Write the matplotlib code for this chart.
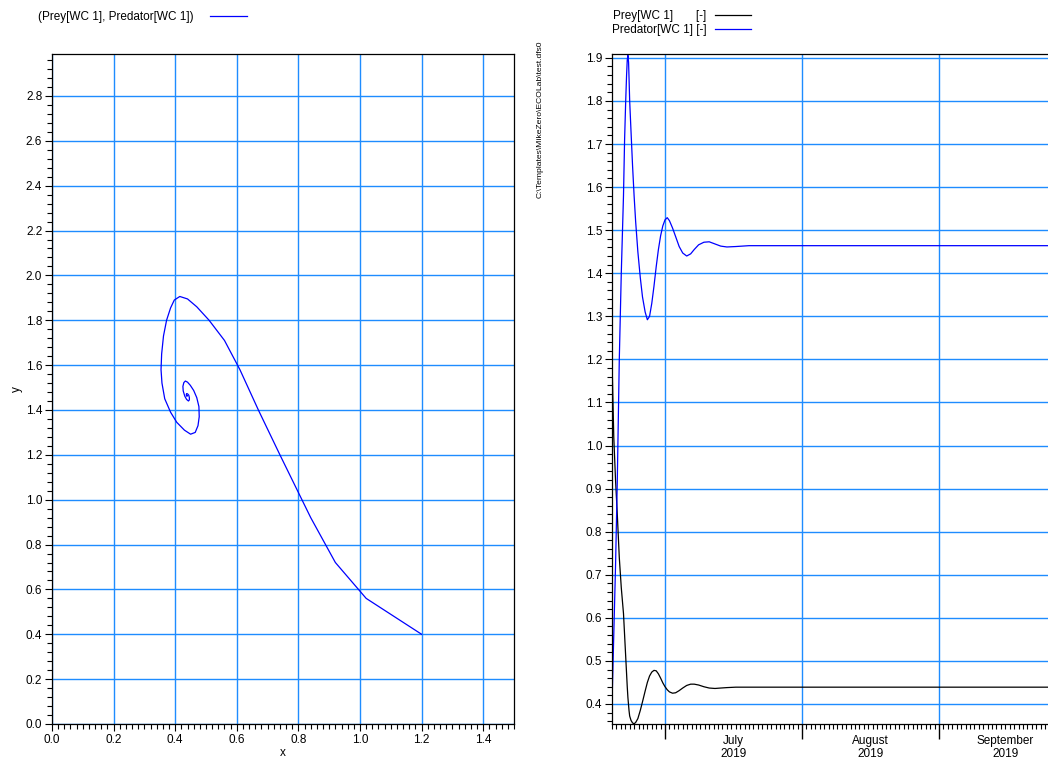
import matplotlib
matplotlib.use('Agg')
import matplotlib.pyplot as plt
import matplotlib.dates as mdates
from matplotlib.ticker import MultipleLocator, FormatStrFormatter
from datetime import datetime, timedelta

plt.rcParams['font.family'] = ['Liberation Sans', 'DejaVu Sans']
plt.rcParams['font.size'] = 8.5

# simulation output (days after start, prey, predator)
start = datetime(2019, 6, 19)
days = [0.0, 0.4, 0.8, 1.2, 1.65, 2.1, 2.6, 2.85, 3.1, 3.3, 3.45, 3.6, 3.75,
        3.85, 4.0, 4.3, 4.65, 5.0, 5.35, 5.85, 6.4, 6.9, 7.5, 8.0, 8.5, 9.0,
        9.5, 10.0, 10.5, 11.0, 11.5, 12.0, 12.5, 13.0, 13.7, 14.4, 15.2, 16.0,
        16.9, 17.8, 18.6, 19.6, 20.8, 22.0, 23.3, 24.6, 26.0, 28.0, 31.0,
        40.0, 60.0, 80.0, 98.7]
prey = [1.20, 1.02, 0.92, 0.84, 0.74, 0.67, 0.61, 0.56, 0.51, 0.47, 0.44, 0.415,
        0.397, 0.385, 0.372, 0.362, 0.356, 0.354, 0.357, 0.366, 0.385, 0.405,
        0.43, 0.45, 0.465, 0.474, 0.478, 0.477, 0.47, 0.46, 0.449, 0.44, 0.433,
        0.428, 0.425, 0.426, 0.431, 0.437, 0.443, 0.446, 0.446, 0.444, 0.440,
        0.437, 0.436, 0.437, 0.438, 0.439, 0.439, 0.439, 0.439, 0.439, 0.439]
predator = [0.40, 0.56, 0.72, 0.92, 1.20, 1.40, 1.58, 1.71, 1.80, 1.86, 1.895,
            1.906, 1.89, 1.855, 1.80, 1.73, 1.65, 1.58, 1.52, 1.45, 1.39, 1.345,
            1.31, 1.292, 1.30, 1.33, 1.37, 1.415, 1.455, 1.487, 1.51, 1.524,
            1.529, 1.522, 1.505, 1.485, 1.462, 1.447, 1.440, 1.445, 1.455,
            1.466, 1.472, 1.473, 1.468, 1.463, 1.461, 1.462, 1.464, 1.464,
            1.464, 1.464, 1.464]
times = [start + timedelta(days=d) for d in days]

months = [(7, 'July'), (8, 'August'), (9, 'September')]

GRID = '#1E8CFF'

fig = plt.figure(figsize=(10.48, 7.6), dpi=100, facecolor='white')

# ---- phase plot ----
ax1 = fig.add_axes([52 / 1048, 1 - 724 / 760, 462 / 1048, 670 / 760])
ax1.plot(prey, predator, color='#0000FF', lw=0.9,
         label='(Prey[WC 1], Predator[WC 1])')
ax1.set_xlim(0, 1.5)
ax1.set_ylim(0, 2.987)
ax1.xaxis.set_major_locator(MultipleLocator(0.2))
ax1.xaxis.set_minor_locator(MultipleLocator(0.02))
ax1.yaxis.set_major_locator(MultipleLocator(0.2))
ax1.yaxis.set_minor_locator(MultipleLocator(0.04))
ax1.xaxis.set_major_formatter(FormatStrFormatter('%.1f'))
ax1.yaxis.set_major_formatter(FormatStrFormatter('%.1f'))
ax1.grid(True, which='major', color=GRID, lw=1.0)
ax1.set_axisbelow(True)
ax1.tick_params(which='major', direction='out', length=5, width=0.8, pad=2)
ax1.tick_params(which='minor', direction='out', length=3.5, width=0.8)
ax1.set_xlabel('x', labelpad=1)
ax1.set_ylabel('y', labelpad=2)
for s in ax1.spines.values():
    s.set_linewidth(0.9)
ax1.legend(loc='upper left', bbox_to_anchor=(38 / 1048, 1 - 11 / 760),
           bbox_transform=fig.transFigure, frameon=False, markerfirst=False,
           handlelength=3.1, handletextpad=1.4, borderpad=0, borderaxespad=0)

# file path note
fig.text(540 / 1048, 1 - 40 / 760, 'C:\\Templates\\MikeZero\\ECOLab\\test.dfs0',
         rotation=90, ha='center', va='top', fontsize=6.1)

# ---- time series ----
ax2 = fig.add_axes([612 / 1048, 1 - 724 / 760, 436 / 1048, 670 / 760])
ax2.plot(times, prey, color='black', lw=0.9, label='Prey[WC 1]       [-]')
ax2.plot(times, predator, color='#0000FF', lw=0.9, label='Predator[WC 1] [-]')
x_end = datetime(2019, 9, 1) + timedelta(days=24.66)
ax2.set_xlim(start, x_end)
ax2.set_ylim(0.3535, 1.909)
ax2.yaxis.set_major_locator(MultipleLocator(0.1))
ax2.yaxis.set_minor_locator(MultipleLocator(0.02))
ax2.yaxis.set_major_formatter(FormatStrFormatter('%.1f'))
ax2.xaxis.set_major_locator(mdates.MonthLocator())
ax2.xaxis.set_minor_locator(mdates.DayLocator())
ax2.xaxis.set_major_formatter(plt.NullFormatter())
ax2.grid(True, which='major', color=GRID, lw=1.0)
ax2.set_axisbelow(True)
ax2.tick_params(axis='y', which='major', direction='out', length=5, width=0.8, pad=2)
ax2.tick_params(axis='y', which='minor', direction='out', length=3.5, width=0.8)
ax2.tick_params(axis='x', which='major', direction='out', length=11, width=1.0)
ax2.tick_params(axis='x', which='minor', direction='out', length=3.5, width=0.8)
ax2.spines['right'].set_visible(False)
for s in ['left', 'top', 'bottom']:
    ax2.spines[s].set_linewidth(0.9)
for m, name in months:
    m0 = datetime(2019, m, 1)
    m1 = datetime(2019, m + 1, 1)
    mid = m0 + (m1 - m0) / 2
    ax2.text(mid, -0.017, f'{name}\n2019', transform=ax2.get_xaxis_transform(),
             ha='center', va='top', linespacing=1.05, clip_on=False)
ax2.legend(loc='upper left', bbox_to_anchor=(612 / 1048, 1 - 10 / 760),
           bbox_transform=fig.transFigure, frameon=False, markerfirst=False,
           handlelength=3.1, handletextpad=0.7, borderpad=0, borderaxespad=0,
           labelspacing=0.15)

fig.savefig('out.png', dpi=100, facecolor='white')
